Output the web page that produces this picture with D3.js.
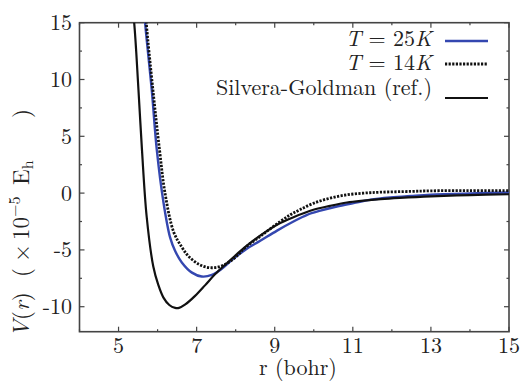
<!DOCTYPE html>
<html>
<head>
<meta charset="utf-8">
<script src="https://cdn.jsdelivr.net/npm/d3@7/dist/d3.min.js"></script>
<style>
  body { margin: 0; background: #fff; }
</style>
</head>
<body>
<div id="chart"></div>
<script>
// r (bohr) and V(r) (x1e-5 Eh)
const sgR = [5.33, 5.40, 5.51, 5.60, 5.72, 5.89, 6.02, 6.15, 6.30, 6.45, 6.55, 6.71, 6.96, 7.22, 7.47, 7.73, 7.99, 8.24, 8.71, 9.14, 9.48, 9.99, 10.42, 10.85, 11.28, 11.71, 12.2, 13.0, 14.0, 15.0];
const sgV = [17, 15.0, 9.1, 3.8, -2.06, -6.46, -8.1, -9.20, -9.85, -10.1, -10.1, -9.8, -9.05, -8.1, -7.15, -6.3, -5.5, -4.75, -3.55, -2.64, -2.12, -1.47, -1.12, -0.83, -0.66, -0.53, -0.42, -0.28, -0.17, -0.10];

const t25R = [5.64, 5.68, 5.85, 5.98, 6.15, 6.32, 6.45, 6.62, 6.88, 7.13, 7.39, 7.65, 7.90, 8.24, 8.63, 9.06, 9.48, 9.83, 10.17, 10.59, 11.02, 11.45, 11.96, 12.5, 13.0, 14.0, 15.0];
const t25V = [17, 15.0, 9.1, 3.8, -0.8, -3.9, -5.1, -6.1, -7.0, -7.34, -7.2, -6.65, -5.9, -5.0, -4.2, -3.3, -2.50, -1.91, -1.55, -1.18, -0.88, -0.59, -0.39, -0.25, -0.14, -0.03, 0.05];

const t14R = [5.67, 5.71, 5.88, 6.05, 6.19, 6.41, 6.62, 6.79, 7.05, 7.30, 7.56, 7.82, 8.07, 8.24, 8.71, 9.14, 9.40, 9.65, 9.99, 10.42, 10.85, 11.28, 11.71, 12.5, 13.0, 14.0, 15.0];
const t14V = [17, 15.0, 9.1, 3.8, 0.0, -3.4, -4.75, -5.55, -6.25, -6.55, -6.5, -6.1, -5.4, -4.8, -3.6, -2.5, -1.91, -1.45, -0.9, -0.44, -0.15, 0.0, 0.08, 0.15, 0.2, 0.22, 0.22];

const xMajor = [5, 7, 9, 11, 13, 15];
const yMajor = [-10, -5, 0, 5, 10, 15];

const W = 521, H = 381;
const m = { left: 79.5, right: 12, top: 22.7, bottom: 49.3 };
const FONT = '"Latin Modern Roman", "Liberation Serif", serif';
const FS = 22;

const svg = d3.select("#chart").append("svg")
    .attr("width", W).attr("height", H)
    .style("font-family", FONT);

const x = d3.scaleLinear().domain([4, 15]).range([m.left, W - m.right]);
const y = d3.scaleLinear().domain([-12.2, 15]).range([H - m.bottom, m.top]);

svg.append("clipPath").attr("id", "clip")
  .append("rect")
    .attr("x", x(4)).attr("y", y(15))
    .attr("width", x(15) - x(4)).attr("height", y(-12.2) - y(15));

// ticks: major and minor, inward on all four sides
const xMinor = d3.range(4, 15.01, 1).filter(d => !xMajor.includes(d));
const yMinor = d3.range(-12.5, 15.01, 2.5).filter(d => d > -12.2 && !yMajor.includes(d));

const frame = svg.append("g").attr("stroke", "#444").attr("stroke-width", 1.2);
function xt(v, len) {
  frame.append("line").attr("x1", x(v)).attr("x2", x(v)).attr("y1", y(-12.2)).attr("y2", y(-12.2) - len);
  frame.append("line").attr("x1", x(v)).attr("x2", x(v)).attr("y1", y(15)).attr("y2", y(15) + len);
}
function yt(v, len) {
  frame.append("line").attr("y1", y(v)).attr("y2", y(v)).attr("x1", x(4)).attr("x2", x(4) + len);
  frame.append("line").attr("y1", y(v)).attr("y2", y(v)).attr("x1", x(15)).attr("x2", x(15) - len);
}
xMajor.forEach(v => xt(v, 5));
xMinor.forEach(v => xt(v, 2.5));
yMajor.forEach(v => yt(v, 5));
yMinor.forEach(v => yt(v, 2.5));

svg.append("rect")
    .attr("x", x(4)).attr("y", y(15))
    .attr("width", x(15) - x(4)).attr("height", y(-12.2) - y(15))
    .attr("fill", "none").attr("stroke", "#444").attr("stroke-width", 1.6);

// tick labels
svg.append("g").selectAll("text").data(xMajor).join("text")
    .attr("x", d => x(d)).attr("y", 353)
    .attr("text-anchor", "middle").attr("font-size", FS).attr("fill", "#222")
    .text(d => d);
svg.append("g").selectAll("text").data(yMajor).join("text")
    .attr("x", 72).attr("y", d => y(d) + 7.5)
    .attr("text-anchor", "end").attr("font-size", FS).attr("fill", "#222")
    .text(d => String(d));

// axis titles
svg.append("text")
    .attr("x", 298).attr("y", 375)
    .attr("text-anchor", "middle").attr("font-size", FS).attr("fill", "#222")
    .text("r (bohr)");

// rotated y title, pieces placed along the axis (x = -screen y)
const yl = svg.append("text")
    .attr("transform", "translate(29,0) rotate(-90)")
    .attr("x", -337)
    .attr("text-anchor", "start").attr("font-size", 23).attr("fill", "#222");
yl.append("tspan").attr("font-style", "italic").text("V");
yl.append("tspan").text("(");
yl.append("tspan").attr("font-style", "italic").text("r");
yl.append("tspan").text(")");
yl.append("tspan").attr("x", -277).text("(");
yl.append("tspan").attr("x", -262).text("×");
yl.append("tspan").attr("x", -240).text("10");
yl.append("tspan").attr("font-size", 16).attr("dy", -9).text("−5");
yl.append("tspan").attr("x", -185).attr("dy", 9).text("E");
yl.append("tspan").attr("font-size", 16).attr("dy", 4).text("h");
yl.append("tspan").attr("x", -118).attr("dy", -4).text(")");

// curves
const series = [
  { name: "t25", r: t25R, v: t25V, color: "#3447b0", width: 2.4, dash: null },
  { name: "t14", r: t14R, v: t14V, color: "#111", width: 2.8, dash: "2.2,1.4" },
  { name: "sg", r: sgR, v: sgV, color: "#111", width: 2.2, dash: null }
];

const line = d3.line()
    .x(d => x(d[0])).y(d => y(d[1]))
    .curve(d3.curveCatmullRom.alpha(0.5));

const plot = svg.append("g").attr("clip-path", "url(#clip)");
series.forEach(s => {
  plot.append("path")
      .datum(s.r.map((r, i) => [r, s.v[i]]))
      .attr("d", line)
      .attr("fill", "none")
      .attr("stroke", s.color)
      .attr("stroke-width", s.width)
      .attr("stroke-dasharray", s.dash);
});

// legend
const legend = svg.append("g").attr("fill", "#222");
const rows = [
  { s: series[0], ly: 41 },
  { s: series[1], ly: 64 },
  { s: series[2], ly: 98 }
];
rows.forEach(row => {
  legend.append("line")
      .attr("x1", 445).attr("x2", 488)
      .attr("y1", row.ly).attr("y2", row.ly)
      .attr("stroke", row.s.color)
      .attr("stroke-width", row.s.width)
      .attr("stroke-dasharray", row.s.dash);
});
function tempLabel(yPos, t) {
  const tx = legend.append("text").attr("x", 432).attr("y", yPos)
      .attr("text-anchor", "end").attr("font-size", FS);
  tx.append("tspan").attr("font-style", "italic").text("T");
  tx.append("tspan").text(" = " + t);
  tx.append("tspan").attr("font-style", "italic").text("K");
}
tempLabel(46, 25);
tempLabel(70, 14);
legend.append("text").attr("x", 432).attr("y", 95)
    .attr("text-anchor", "end").attr("font-size", FS)
    .text("Silvera-Goldman (ref.)");
</script>
</body>
</html>
